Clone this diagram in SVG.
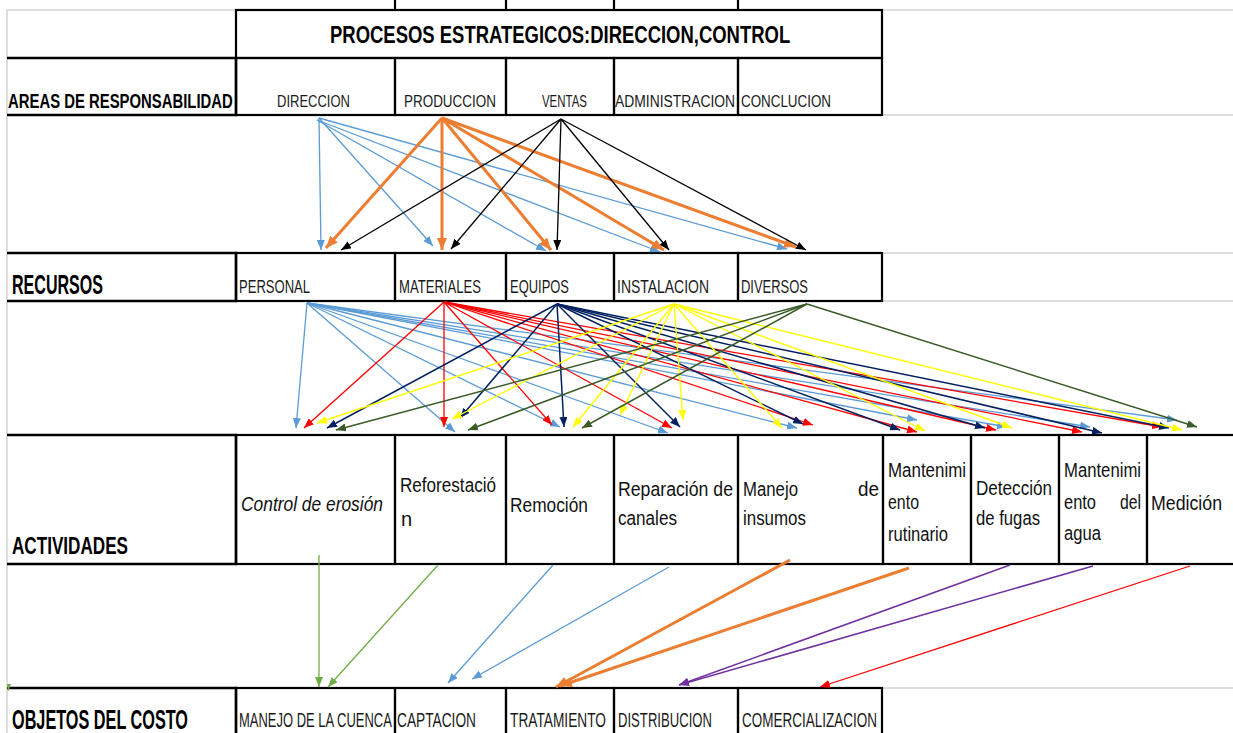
<svg xmlns="http://www.w3.org/2000/svg" width="1233" height="733" viewBox="0 0 1233 733">
<style>
.bg{fill:#ffffff}
.grid{stroke:#d3d3d3;stroke-width:1.5;fill:none}
.cell{fill:none;stroke:#000;stroke-width:2.2}
.hl{fill:none;stroke:#000;stroke-width:2.6}
.t{font-family:"Liberation Sans",Arial,sans-serif;fill:#1a1a1a}
.hb{font-weight:bold;fill:#000}
.a{font-family:"Liberation Sans",Arial,sans-serif;font-size:20px;fill:#111}
.c{fill:none;stroke-width:1.3}
.blue{stroke:#5B9BD5}
.org{stroke:#ED7D31;stroke-width:3}
.blk{stroke:#000}
.red{stroke:#FF0000}
.nvy{stroke:#002060;stroke-width:1.5}
.yel{stroke:#FFFF00;stroke-width:1.4}
.dgr{stroke:#3B5B27;stroke-width:1.5}
.grn{stroke:#70AD47}
.pur{stroke:#7030A0;stroke-width:1.5}
</style>
<defs>
<marker id="mBlue" viewBox="0 0 10 8" refX="10" refY="4" markerWidth="10" markerHeight="8" markerUnits="userSpaceOnUse" orient="auto"><path d="M0,0L10,4L0,8z" fill="#5B9BD5"/></marker>
<marker id="mOrg" viewBox="0 0 12 10" refX="12" refY="5" markerWidth="12" markerHeight="10" markerUnits="userSpaceOnUse" orient="auto"><path d="M0,0L12,5L0,10z" fill="#ED7D31"/></marker>
<marker id="mBlk" viewBox="0 0 10 8" refX="10" refY="4" markerWidth="10" markerHeight="8" markerUnits="userSpaceOnUse" orient="auto"><path d="M0,0L10,4L0,8z" fill="#000"/></marker>
<marker id="mRed" viewBox="0 0 10 8" refX="10" refY="4" markerWidth="10" markerHeight="8" markerUnits="userSpaceOnUse" orient="auto"><path d="M0,0L10,4L0,8z" fill="#FF0000"/></marker>
<marker id="mNvy" viewBox="0 0 10 8" refX="10" refY="4" markerWidth="10" markerHeight="8" markerUnits="userSpaceOnUse" orient="auto"><path d="M0,0L10,4L0,8z" fill="#002060"/></marker>
<marker id="mYel" viewBox="0 0 10 8" refX="10" refY="4" markerWidth="10" markerHeight="8" markerUnits="userSpaceOnUse" orient="auto"><path d="M0,0L10,4L0,8z" fill="#FFFF00"/></marker>
<marker id="mDgr" viewBox="0 0 10 8" refX="10" refY="4" markerWidth="10" markerHeight="8" markerUnits="userSpaceOnUse" orient="auto"><path d="M0,0L10,4L0,8z" fill="#3B5B27"/></marker>
<marker id="mGrn" viewBox="0 0 10 8" refX="10" refY="4" markerWidth="10" markerHeight="8" markerUnits="userSpaceOnUse" orient="auto"><path d="M0,0L10,4L0,8z" fill="#70AD47"/></marker>
<marker id="mPur" viewBox="0 0 10 8" refX="10" refY="4" markerWidth="10" markerHeight="8" markerUnits="userSpaceOnUse" orient="auto"><path d="M0,0L10,4L0,8z" fill="#7030A0"/></marker>
</defs>
<rect class="bg" x="0" y="0" width="1233" height="733"/>
<g id="gridlines">
<path class="grid" d="M7,10V733 M7,10H236 M882,10H1233 M882,115H1233 M882,253H1233 M882,301H1233 M882,688H1233"/>
<path class="cell" d="M395,0V10 M506,0V10 M614,0V10 M738,0V10"/>
</g>
<g id="n-title"><rect class="cell" x="236" y="10" width="646" height="48"/><text class="t hb" font-size="24" transform="matrix(0.767 0 0 1 330 43)" textLength="600" lengthAdjust="spacingAndGlyphs">PROCESOS ESTRATEGICOS:DIRECCION,CONTROL</text></g>
<g id="n-areas"><path class="hl" d="M7,58H236V115H7"/><text class="t hb" font-size="21" transform="matrix(0.709 0 0 1 8 108)" textLength="317" lengthAdjust="spacingAndGlyphs">AREAS DE RESPONSABILIDAD</text></g>
<g id="n-direccion"><rect class="cell" x="236" y="58" width="159" height="57"/><text class="t" font-size="17" transform="matrix(0.765 0 0 1 277 107)" textLength="95.4" lengthAdjust="spacingAndGlyphs">DIRECCION</text></g>
<g id="n-produccion"><rect class="cell" x="395" y="58" width="111" height="57"/><text class="t" font-size="17" transform="matrix(0.794 0 0 1 404 107)" textLength="115.8" lengthAdjust="spacingAndGlyphs">PRODUCCION</text></g>
<g id="n-ventas"><rect class="cell" x="506" y="58" width="108" height="57"/><text class="t" font-size="17" transform="matrix(0.66 0 0 1 542 107)" textLength="68" lengthAdjust="spacingAndGlyphs">VENTAS</text></g>
<g id="n-administracion"><rect class="cell" x="614" y="58" width="124" height="57"/><text class="t" font-size="17" transform="matrix(0.797 0 0 1 615 107)" textLength="150.7" lengthAdjust="spacingAndGlyphs">ADMINISTRACION</text></g>
<g id="n-conclucion"><rect class="cell" x="738" y="58" width="144" height="57"/><text class="t" font-size="17" transform="matrix(0.79 0 0 1 741 107)" textLength="113.9" lengthAdjust="spacingAndGlyphs">CONCLUCION</text></g>
<g id="n-recursos"><path class="hl" d="M7,253H236V301H7"/><text class="t hb" font-size="28" transform="matrix(0.573 0 0 1 12 294)" textLength="158.7" lengthAdjust="spacingAndGlyphs">RECURSOS</text></g>
<g id="n-personal"><rect class="cell" x="236" y="253" width="159" height="48"/><text class="t" font-size="19" transform="matrix(0.686 0 0 1 239 293)" textLength="103.5" lengthAdjust="spacingAndGlyphs">PERSONAL</text></g>
<g id="n-materiales"><rect class="cell" x="395" y="253" width="111" height="48"/><text class="t" font-size="19" transform="matrix(0.681 0 0 1 399 293)" textLength="120.4" lengthAdjust="spacingAndGlyphs">MATERIALES</text></g>
<g id="n-equipos"><rect class="cell" x="506" y="253" width="108" height="48"/><text class="t" font-size="19" transform="matrix(0.681 0 0 1 510 293)" textLength="86.6" lengthAdjust="spacingAndGlyphs">EQUIPOS</text></g>
<g id="n-instalacion"><rect class="cell" x="614" y="253" width="124" height="48"/><text class="t" font-size="19" transform="matrix(0.726 0 0 1 617 293)" textLength="126.7" lengthAdjust="spacingAndGlyphs">INSTALACION</text></g>
<g id="n-diversos"><rect class="cell" x="738" y="253" width="144" height="48"/><text class="t" font-size="19" transform="matrix(0.682 0 0 1 741 293)" textLength="98.2" lengthAdjust="spacingAndGlyphs">DIVERSOS</text></g>
<g id="n-actividades"><path class="hl" d="M7,435H236V564H7"/><text class="t hb" font-size="24" transform="matrix(0.713 0 0 1 12 554)" textLength="162.7" lengthAdjust="spacingAndGlyphs">ACTIVIDADES</text></g>
<g id="n-control"><rect class="cell" x="236" y="435" width="159" height="129"/><text class="a" font-style="italic" transform="matrix(0.869 0 0 1 241 511)" textLength="163.4" lengthAdjust="spacingAndGlyphs">Control de erosión</text></g>
<g id="n-reforestacion"><rect class="cell" x="395" y="435" width="111" height="129"/><text class="a" x="400" y="492" textLength="96" lengthAdjust="spacingAndGlyphs">Reforestació</text><text class="a" x="401" y="526">n</text></g>
<g id="n-remocion"><rect class="cell" x="506" y="435" width="108" height="129"/><text class="a" x="510" y="512" textLength="78" lengthAdjust="spacingAndGlyphs">Remoción</text></g>
<g id="n-reparacion"><rect class="cell" x="614" y="435" width="124" height="129"/><text class="a" x="618" y="496" textLength="115" lengthAdjust="spacingAndGlyphs">Reparación de</text><text class="a" x="618" y="525" textLength="59" lengthAdjust="spacingAndGlyphs">canales</text></g>
<g id="n-insumos"><rect class="cell" x="738" y="435" width="145" height="129"/><text class="a" x="743" y="496" textLength="55" lengthAdjust="spacingAndGlyphs">Manejo</text><text class="a" x="858" y="496" textLength="21" lengthAdjust="spacingAndGlyphs">de</text><text class="a" x="743" y="525" textLength="63" lengthAdjust="spacingAndGlyphs">insumos</text></g>
<g id="n-rutinario"><rect class="cell" x="883" y="435" width="88" height="129"/><text class="a" x="888" y="477" textLength="78" lengthAdjust="spacingAndGlyphs">Mantenimi</text><text class="a" x="888" y="509" textLength="31" lengthAdjust="spacingAndGlyphs">ento</text><text class="a" x="888" y="541" textLength="60" lengthAdjust="spacingAndGlyphs">rutinario</text></g>
<g id="n-fugas"><rect class="cell" x="971" y="435" width="88" height="129"/><text class="a" x="976" y="495" textLength="76" lengthAdjust="spacingAndGlyphs">Detección</text><text class="a" x="976" y="525" textLength="64" lengthAdjust="spacingAndGlyphs">de fugas</text></g>
<g id="n-agua"><rect class="cell" x="1059" y="435" width="88" height="129"/><text class="a" x="1064" y="477" textLength="77" lengthAdjust="spacingAndGlyphs">Mantenimi</text><text class="a" x="1064" y="509" textLength="32" lengthAdjust="spacingAndGlyphs">ento</text><text class="a" x="1120" y="509" textLength="21" lengthAdjust="spacingAndGlyphs">del</text><text class="a" x="1064" y="540" textLength="37" lengthAdjust="spacingAndGlyphs">agua</text></g>
<g id="n-medicion"><rect class="cell" x="1147" y="435" width="92" height="129"/><text class="a" x="1151" y="510" textLength="71" lengthAdjust="spacingAndGlyphs">Medición</text></g>
<g id="n-objetos"><path class="hl" d="M7,688H236V740"/><text class="t hb" font-size="28" transform="matrix(0.577 0 0 1 12 729)" textLength="305" lengthAdjust="spacingAndGlyphs">OBJETOS DEL COSTO</text></g>
<g id="n-cuenca"><rect class="cell" x="236" y="688" width="159" height="52"/><text class="t" font-size="20" transform="matrix(0.646 0 0 1 239 727)" textLength="236.7" lengthAdjust="spacingAndGlyphs">MANEJO DE LA CUENCA</text></g>
<g id="n-captacion"><rect class="cell" x="395" y="688" width="111" height="52"/><text class="t" font-size="20" transform="matrix(0.677 0 0 1 397 727)" textLength="116.7" lengthAdjust="spacingAndGlyphs">CAPTACION</text></g>
<g id="n-tratamiento"><rect class="cell" x="506" y="688" width="108" height="52"/><text class="t" font-size="20" transform="matrix(0.67 0 0 1 510 727)" textLength="143.3" lengthAdjust="spacingAndGlyphs">TRATAMIENTO</text></g>
<g id="n-distribucion"><rect class="cell" x="614" y="688" width="124" height="52"/><text class="t" font-size="20" transform="matrix(0.656 0 0 1 618 727)" textLength="143.3" lengthAdjust="spacingAndGlyphs">DISTRIBUCION</text></g>
<g id="n-comercializacion"><rect class="cell" x="738" y="688" width="144" height="52"/><text class="t" font-size="20" transform="matrix(0.632 0 0 1 742 727)" textLength="213.6" lengthAdjust="spacingAndGlyphs">COMERCIALIZACION</text></g>
<g id="connectors">
<g class="c blue" marker-end="url(#mBlue)">
<line x1="319" y1="118" x2="321" y2="250"/>
<line x1="319" y1="118" x2="433" y2="246"/>
<line x1="317" y1="120" x2="546" y2="251"/>
<line x1="317" y1="120" x2="660" y2="252"/>
<line x1="319" y1="118" x2="787" y2="249"/>
</g>
<g class="c org" marker-end="url(#mOrg)">
<line x1="442" y1="118" x2="326" y2="248"/>
<line x1="442" y1="118" x2="442" y2="250"/>
<line x1="442" y1="118" x2="551" y2="250"/>
<line x1="442" y1="118" x2="664" y2="250"/>
<line x1="442" y1="118" x2="796" y2="247"/>
</g>
<g class="c blk" marker-end="url(#mBlk)">
<line x1="561" y1="119" x2="341" y2="250"/>
<line x1="561" y1="119" x2="451" y2="249"/>
<line x1="561" y1="119" x2="557" y2="250"/>
<line x1="561" y1="119" x2="669" y2="250"/>
<line x1="561" y1="119" x2="806" y2="250"/>
</g>
<g class="c blue" marker-end="url(#mBlue)">
<line x1="307" y1="303" x2="296" y2="428"/>
<line x1="307" y1="303" x2="455" y2="432"/>
<line x1="307" y1="303" x2="560" y2="427"/>
<line x1="307" y1="303" x2="668" y2="433"/>
<line x1="307" y1="303" x2="797" y2="428"/>
<line x1="307" y1="303" x2="917" y2="420"/>
<line x1="307" y1="303" x2="1007" y2="427"/>
<line x1="307" y1="303" x2="1090" y2="427"/>
<line x1="307" y1="303" x2="1177" y2="420"/>
</g>
<g class="c red" marker-end="url(#mRed)">
<line x1="444" y1="302" x2="304" y2="428"/>
<line x1="444" y1="302" x2="444" y2="427"/>
<line x1="444" y1="302" x2="552" y2="425"/>
<line x1="444" y1="302" x2="672" y2="428"/>
<line x1="444" y1="302" x2="813" y2="425"/>
<line x1="444" y1="302" x2="917" y2="432"/>
<line x1="444" y1="302" x2="996" y2="430"/>
<line x1="444" y1="302" x2="1082" y2="432"/>
<line x1="444" y1="302" x2="1162" y2="427"/>
</g>
<g class="c nvy" marker-end="url(#mNvy)">
<line x1="557" y1="304" x2="327" y2="428"/>
<line x1="557" y1="304" x2="460" y2="418"/>
<line x1="557" y1="304" x2="564" y2="427"/>
<line x1="557" y1="304" x2="680" y2="427"/>
<line x1="557" y1="304" x2="803" y2="424"/>
<line x1="557" y1="304" x2="900" y2="430"/>
<line x1="557" y1="304" x2="985" y2="428"/>
<line x1="557" y1="304" x2="1102" y2="433"/>
<line x1="557" y1="304" x2="1169" y2="428"/>
</g>
<g class="c yel" marker-end="url(#mYel)">
<line x1="674" y1="304" x2="317" y2="423"/>
<line x1="674" y1="304" x2="452" y2="419"/>
<line x1="674" y1="304" x2="573" y2="427"/>
<line x1="674" y1="304" x2="620" y2="415"/>
<line x1="674" y1="304" x2="683" y2="420"/>
<line x1="674" y1="304" x2="782" y2="428"/>
<line x1="674" y1="304" x2="925" y2="431"/>
<line x1="674" y1="304" x2="1012" y2="428"/>
<line x1="674" y1="304" x2="1182" y2="430"/>
</g>
<g class="c dgr" marker-end="url(#mDgr)">
<line x1="807" y1="304" x2="336" y2="430"/>
<line x1="807" y1="304" x2="468" y2="430"/>
<line x1="807" y1="304" x2="582" y2="428"/>
<line x1="807" y1="304" x2="1197" y2="427"/>
</g>
<g class="c grn" marker-end="url(#mGrn)">
<line x1="319" y1="555" x2="319" y2="687"/>
<line x1="438" y1="565" x2="328" y2="687"/>
</g>
<g class="c blue" marker-end="url(#mBlue)">
<line x1="553" y1="565" x2="448" y2="683"/>
<line x1="669" y1="567" x2="472" y2="679"/>
</g>
<g class="c org" marker-end="url(#mOrg)">
<line x1="790" y1="560" x2="556" y2="687"/>
<line x1="909" y1="568" x2="560" y2="686"/>
</g>
<g class="c pur" marker-end="url(#mPur)">
<line x1="1010" y1="565" x2="679" y2="685"/>
<line x1="1093" y1="566" x2="679" y2="685"/>
</g>
<g class="c red" marker-end="url(#mRed)">
<line x1="1190" y1="566" x2="820" y2="687"/>
</g>
<path d="M7,684L11,684L8,692z" fill="#70AD47"/>
</g>
</svg>
